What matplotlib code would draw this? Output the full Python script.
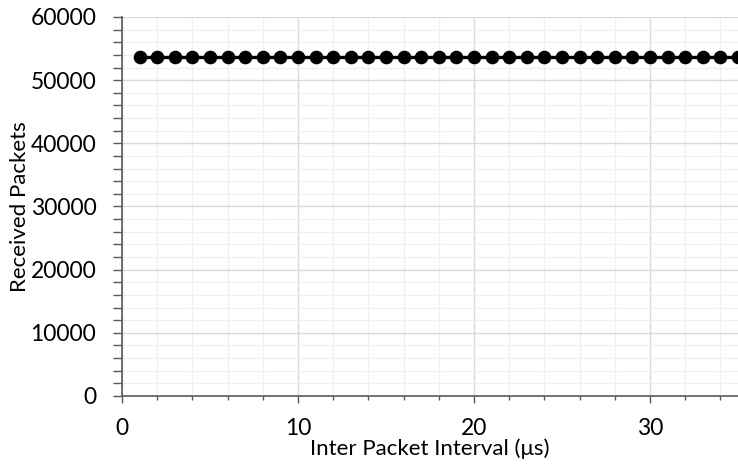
import numpy as np
import matplotlib.pyplot as plt
from matplotlib.ticker import MultipleLocator

# Data
interval_us = list(range(1, 36))
received = [53600] * len(interval_us)

plt.rcParams['font.family'] = ['Lato', 'DejaVu Sans']

fig = plt.figure(figsize=(7.38, 4.69), dpi=100)
ax = fig.add_axes([0.1653, 0.1557, 0.8347, 0.8081])

ax.plot(interval_us, received, color='black', linewidth=2.4,
        marker='o', markersize=8.8, zorder=3, clip_on=False)

ax.set_xlim(0, 35)
ax.set_ylim(0, 60000)
ax.xaxis.set_major_locator(MultipleLocator(10))
ax.xaxis.set_minor_locator(MultipleLocator(2))
ax.yaxis.set_major_locator(MultipleLocator(10000))
ax.yaxis.set_minor_locator(MultipleLocator(2000))

ax.grid(which='major', color='#d9d9d9', linewidth=1.0)
ax.grid(which='minor', color='#f0f0f0', linewidth=1.0)
ax.set_axisbelow(True)

for side in ['top', 'right']:
    ax.spines[side].set_visible(False)
for side in ['left', 'bottom']:
    ax.spines[side].set_color('#595959')
    ax.spines[side].set_linewidth(1.2)

ax.tick_params(axis='y', which='both', direction='out', length=6.5,
               width=1.0, color='#595959', labelsize=16.5, pad=12)
ax.tick_params(axis='x', which='major', direction='out', length=5,
               width=1.0, color='#595959', labelsize=16.5, pad=11)
ax.tick_params(axis='x', which='minor', direction='out', length=3,
               width=1.0, color='#595959')

ax.set_xlabel('Inter Packet Interval (μs)', fontsize=16)
ax.set_ylabel('Received Packets', fontsize=16)
ax.xaxis.set_label_coords(0.5, -0.112)
ax.yaxis.set_label_coords(-0.150, 0.5)

fig.savefig('out.png', dpi=100)
